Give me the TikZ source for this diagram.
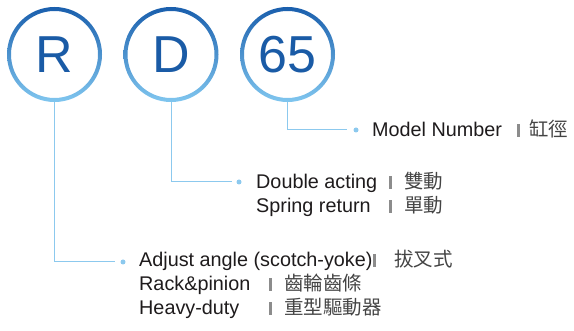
\documentclass[tikz,border=0pt]{standalone}
\usepackage{fontspec}
\setmainfont{Liberation Sans}
\newfontfamily\cjk{Noto Sans CJK TC}
\definecolor{ringtop}{HTML}{1A5FAD}
\definecolor{ringbot}{HTML}{80C6EF}
\definecolor{lettercol}{HTML}{1A5BA6}
\definecolor{conn}{HTML}{8CC9EE}
\definecolor{txt}{HTML}{1E1B1C}
\definecolor{cjkc}{HTML}{444444}
\definecolor{barcol}{HTML}{8C8C8C}
\newcommand{\sepbar}{\textcolor{barcol}{\rule{2.4pt}{12.5pt}}}
\begin{document}
\begin{tikzpicture}[x=1pt,y=-1pt,
  bignode/.style={circle,minimum size=95pt,inner sep=0pt,text=lettercol,
    font=\fontsize{52}{52}\selectfont},
  connline/.style={draw=conn,line width=1pt},
  dotnode/.style={circle,fill=conn,inner sep=0pt,minimum size=5pt},
  entxt/.style={anchor=base west,inner sep=0pt,text=txt,
    font=\fontsize{19.8}{24}\selectfont},
  cntxt/.style={anchor=base west,inner sep=0pt,text=cjkc,
    font=\fontsize{19.5}{24}\selectfont\cjk},
  barnode/.style={anchor=base west,inner sep=0pt}]
\useasboundingbox (0,0) rectangle (574,331);
% rings
\foreach \cx in {54.5,171,287.5}{
  \shade[top color=ringtop,bottom color=ringbot,even odd rule]
    (\cx,54.5) circle[radius=47.5pt] (\cx,54.5) circle[radius=43.5pt];
}
\node[bignode] (R) at (54.5,54.5) {R};
\node[bignode] (D) at (171,54.5) {D};
\node[bignode] (N) at (287.5,54.5) {65};
% dots and connector ends
\coordinate (eN) at (347,130);
\coordinate (eD) at (232,182);
\coordinate (eR) at (115,262);
\node[dotnode] (dN) at (356,130) {};
\node[dotnode] (dD) at (239,182) {};
\node[dotnode] (dR) at (123,262) {};
\draw[connline] (N.south) |- (eN);
\draw[connline] (D.south) |- (eD);
\draw[connline] (R.south) |- (eR);
% model number
\node[entxt] (t1) at (372,137) {Model Number};
\node[barnode] (b1) at (517,137) {\sepbar};
\node[cntxt] (c1) at (529,137) {缸徑};
% double / spring
\node[entxt] (t2) at (256,189) {Double acting};
\node[barnode] (b2) at (389,189) {\sepbar};
\node[cntxt] (c2) at (404,189) {雙動};
\node[entxt] (t3) at (256,213) {Spring return};
\node[barnode] (b3) at (389,213) {\sepbar};
\node[cntxt] (c3) at (404,213) {單動};
% R options
\node[entxt] (t4) at (139,267) {Adjust angle (scotch-yoke)};
\node[barnode] (b4) at (373,267) {\sepbar};
\node[cntxt] (c4) at (394,267) {拔叉式};
\node[entxt] (t5) at (139,291) {Rack\&pinion};
\node[barnode] (b5) at (269,291) {\sepbar};
\node[cntxt] (c5) at (284,291) {齒輪齒條};
\node[entxt] (t6) at (139,315) {Heavy-duty};
\node[barnode] (b6) at (269,315) {\sepbar};
\node[cntxt] (c6) at (284,315) {重型驅動器};
\end{tikzpicture}
\end{document}
